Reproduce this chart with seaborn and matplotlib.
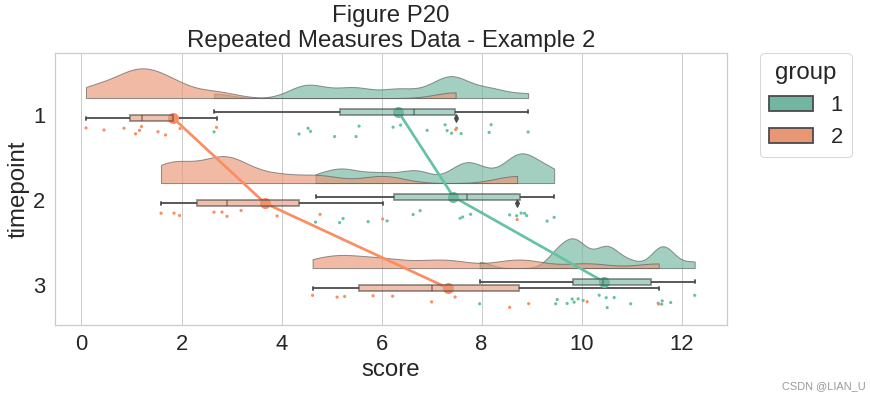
import numpy as np
import pandas as pd
import matplotlib
matplotlib.use('Agg')
import matplotlib.pyplot as plt
import matplotlib.transforms as mtransforms
import seaborn as sns

timepoints = ['1', '2', '3']
groups = ['1', '2']

# group 1 scores per timepoint
g1_t1 = [2.65, 4.35, 4.53, 4.58, 5.06, 5.49, 5.55, 6.23, 6.38, 6.91, 7.27, 7.31, 7.40, 7.50, 7.59, 8.15, 8.19, 8.93]
g1_t2 = [4.68, 5.16, 5.23, 5.73, 6.11, 6.63, 6.77, 7.57, 7.62, 7.78, 8.00, 8.56, 8.70, 8.79, 8.86, 8.90, 9.31, 9.45]
g1_t3 = [7.96, 9.48, 9.51, 9.71, 9.81, 9.85, 9.93, 10.03, 10.35, 10.49, 10.51, 10.65, 10.98, 11.53, 11.60, 11.61, 11.78, 12.26]

# group 2 scores per timepoint
g2_t1 = [0.09, 0.45, 0.85, 1.08, 1.16, 1.20, 1.53, 1.68, 1.97, 2.70, 7.48]
g2_t2 = [1.59, 1.85, 1.96, 2.65, 2.81, 2.91, 3.19, 3.91, 4.77, 6.02, 8.71]
g2_t3 = [4.62, 5.11, 5.26, 5.83, 6.22, 7.00, 7.47, 8.56, 8.94, 10.11, 11.54]

parts = []
for g, series in zip(groups, [[g1_t1, g1_t2, g1_t3], [g2_t1, g2_t2, g2_t3]]):
    for t, vals in zip(timepoints, series):
        parts.append(pd.DataFrame({'group': g, 'timepoint': t, 'score': vals}))
df = pd.concat(parts, ignore_index=True)

sns.set(style='whitegrid', font_scale=2)
plt.rcParams['font.family'] = ['Liberation Sans', 'DejaVu Sans']
pal = sns.color_palette('Set2', 2)
np.random.seed(3)

fig, ax = plt.subplots(figsize=(870/72, 400/72), dpi=72)
fig.subplots_adjust(left=0.0632, right=0.8353, bottom=0.1875, top=0.8667)

# clouds: one call per timepoint so both groups share the density scale,
# then every half is flipped onto the upper side and lifted above the boxes
for i, t in enumerate(timepoints):
    n0 = len(ax.collections)
    sns.violinplot(data=df[df.timepoint == t], x='score', y='timepoint', hue='group',
                   order=timepoints, hue_order=groups, orient='h', palette=pal, split=True,
                   inner=None, cut=0, bw_method=0.2, density_norm='area', common_norm=True,
                   width=0.7, linewidth=1, legend=False, ax=ax)
    new = ax.collections[n0:]
    info = []
    for coll in new:
        y = np.concatenate([p.vertices[:, 1] for p in coll.get_paths()])
        vals, counts = np.unique(np.round(y, 9), return_counts=True)
        yb = vals[np.argmax(counts)]
        far = y[np.argmax(np.abs(y - yb))]
        info.append((yb, far - yb))
    hmax = max(abs(h) for _, h in info)
    for coll, (yb, h) in zip(new, info):
        s = 0.35 / hmax
        tr = (mtransforms.Affine2D().translate(0, -yb)
              .scale(1, -np.sign(h) * s).translate(0, i - 0.2))
        coll.set_transform(tr + ax.transData)
        coll.set_alpha(0.65)

# umbrellas (boxes)
n0 = len(ax.patches)
sns.boxplot(data=df, x='score', y='timepoint', hue='group', order=timepoints, hue_order=groups,
            orient='h', palette=pal, width=0.15, dodge=True, linewidth=1.8, linecolor='#4a4a4a',
            flierprops=dict(marker='d', markersize=5, markerfacecolor='#4a4a4a',
                            markeredgecolor='#4a4a4a'), ax=ax)
for p in ax.patches[n0:]:
    p.set_alpha(0.6)
    p.set_zorder(10)

# rain (points, moved down)
n0 = len(ax.collections)
sns.stripplot(data=df, x='score', y='timepoint', hue='group', order=timepoints, hue_order=groups,
              orient='h', palette=pal, jitter=0.08, dodge=False, size=3.2, legend=False, ax=ax)
for coll in ax.collections[n0:]:
    coll.set_offset_transform(mtransforms.Affine2D().translate(0, 0.19) + ax.transData)

# means
sns.pointplot(data=df, x='score', y='timepoint', hue='group', order=timepoints, hue_order=groups,
              orient='h', palette=pal, dodge=0.075, errorbar=None, markersize=9,
              linewidth=2.7, legend=False, ax=ax)

ax.set_xlim(-0.53, 12.9)
ax.set_ylim(2.47, -0.726)
ax.set_xticks([0, 2, 4, 6, 8, 10, 12])
ax.set_xlabel('score')
ax.set_ylabel('timepoint')
ax.set_title('Figure P20\nRepeated Measures Data - Example 2')
sns.move_legend(ax, 'upper left', bbox_to_anchor=(1.05, 1), borderaxespad=0, title='group')

fig.text(0.995, 0.035, 'CSDN @LIAN_U', ha='right', va='center', fontsize=11, color='#9a9a9a')

plt.savefig('out.png', dpi=72)
